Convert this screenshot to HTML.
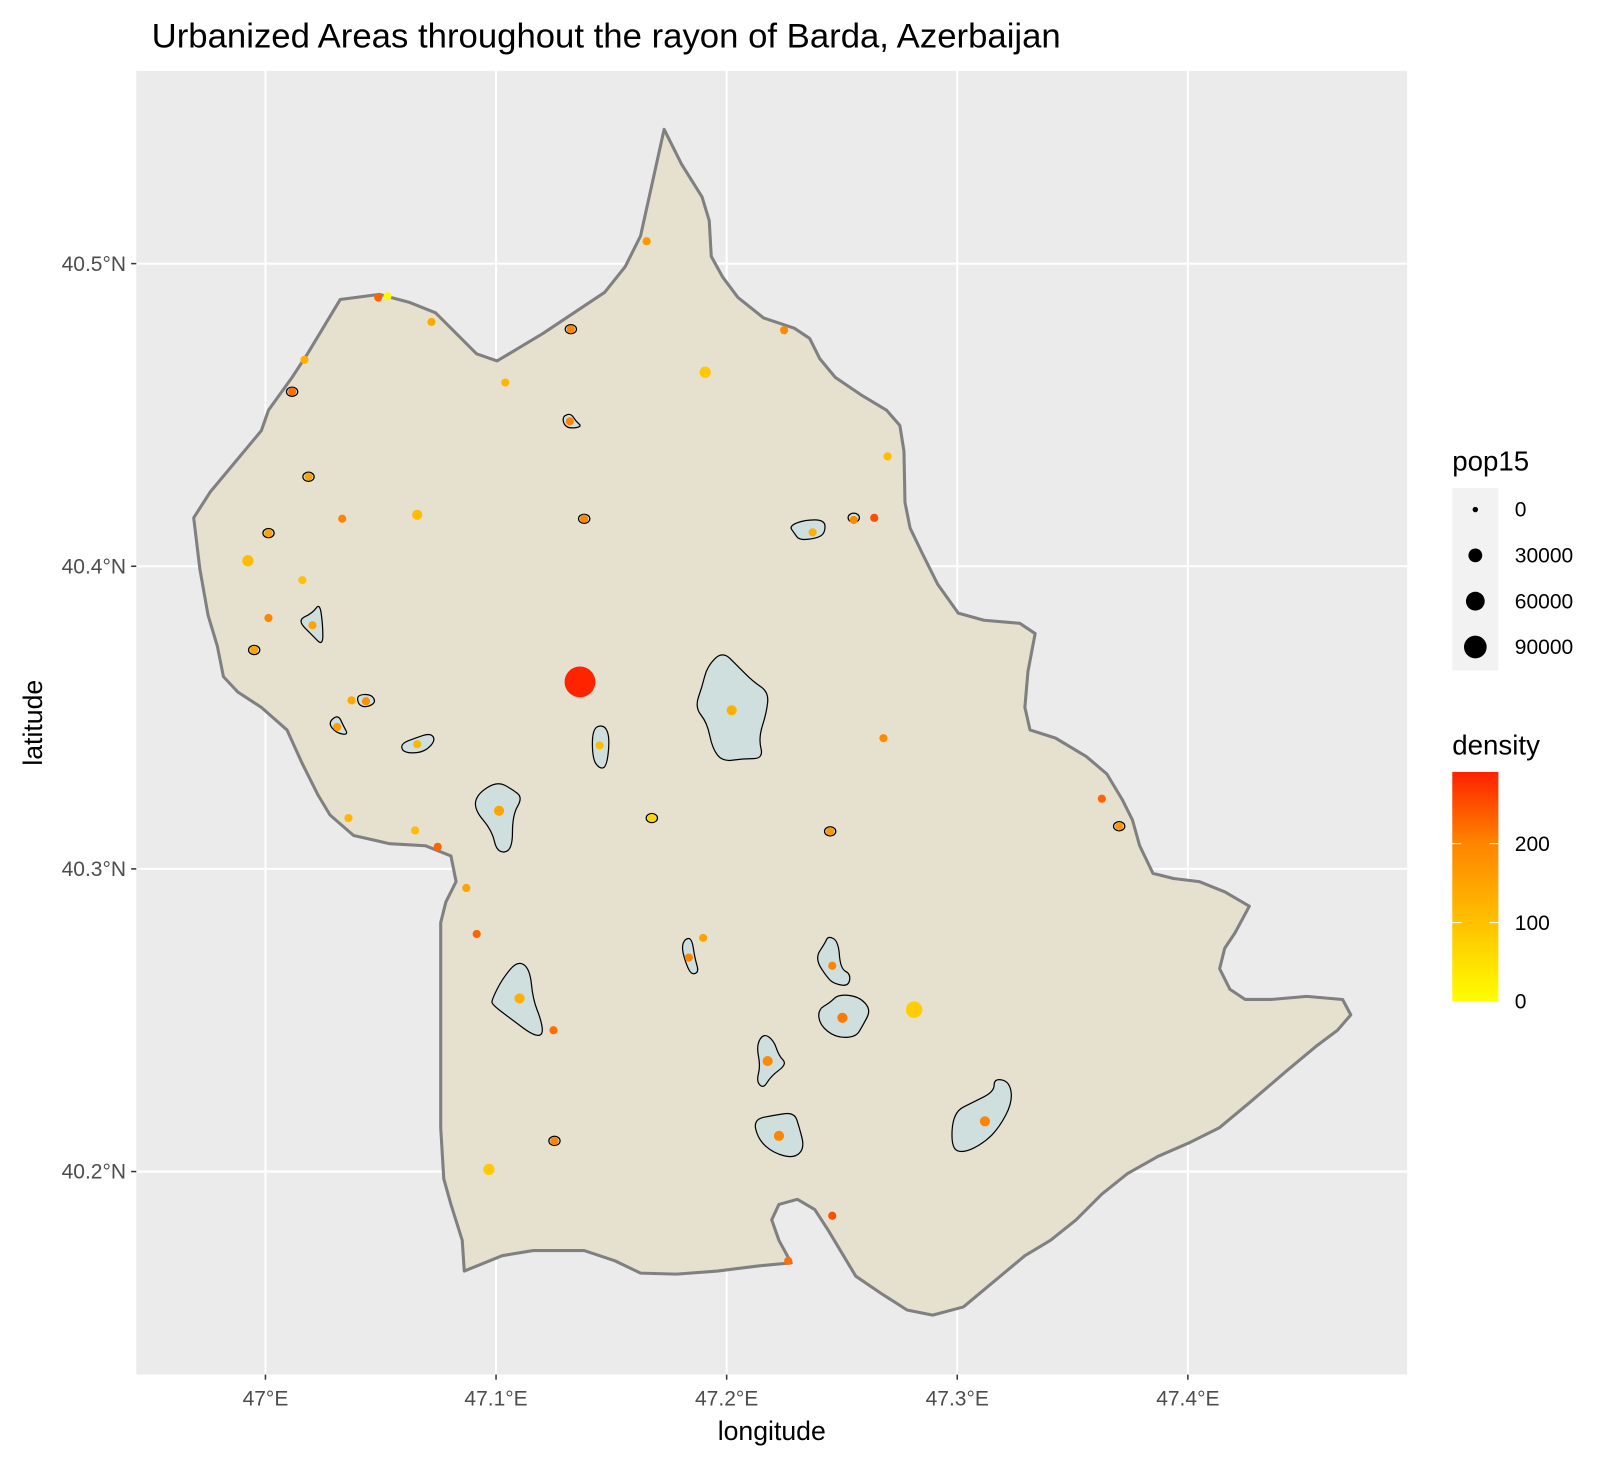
<!DOCTYPE html>
<html><head><meta charset="utf-8">
<style>
html,body{margin:0;padding:0;background:#fff;}
svg{display:block;font-family:"Liberation Sans",Arial,sans-serif;}
</style></head>
<body>
<svg id="chart" width="1606" height="1466" viewBox="0 0 1567 1430" xmlns="http://www.w3.org/2000/svg">
<rect x="0" y="0" width="1567" height="1430" fill="#fff"/>
<text x="148" y="46" font-size="33.5" fill="#000" textLength="887" lengthAdjust="spacingAndGlyphs">Urbanized Areas throughout the rayon of Barda, Azerbaijan</text>
<rect x="133" y="69" width="1240" height="1272" fill="#ebebeb"/>
<g id="grid"></g>
<g id="region"></g>
<g id="urban"></g>
<g id="pts"></g>
<g id="axes"></g>
<text x="753" y="1405" font-size="26" text-anchor="middle" fill="#000">longitude</text>
<text x="0" y="0" font-size="26" text-anchor="middle" fill="#000" transform="translate(41,705) rotate(-90)">latitude</text>
<g id="legend-size">
<text x="1417" y="459" font-size="27" fill="#000">pop15</text>
<rect x="1417" y="476" width="45" height="178" fill="#f2f2f2"/>
</g>
<g id="legend-color">
<defs><linearGradient id="dg" x1="0" y1="1" x2="0" y2="0">
<stop offset="0" stop-color="#ffff00"/><stop offset="0.34" stop-color="#ffc200"/><stop offset="0.69" stop-color="#ff8400"/><stop offset="1" stop-color="#ff2200"/></linearGradient></defs>
<text x="1417" y="736" font-size="27" fill="#000">density</text>
<rect x="1417" y="753" width="45" height="224" fill="url(#dg)"/>
</g>
</svg>
<script>
const NS="http://www.w3.org/2000/svg";
const lonTicks=[47.0,47.1,47.2,47.3,47.4];
const lonLabels=["47°E","47.1°E","47.2°E","47.3°E","47.4°E"];
const latTicks=[40.5,40.4,40.3,40.2];
const latLabels=["40.5°N","40.4°N","40.3°N","40.2°N"];
const ptLon=[47.0489,47.0529,47.0720,47.1653,47.1324,47.0169,47.0116,47.1040,47.1907,47.2249,47.1320,47.2698,47.0187,47.0333,47.0658,47.1382,47.0013,47.2373,47.2551,47.2640,46.9924,47.0160,47.0013,47.0204,46.9951,47.0373,47.0436,47.0311,47.2022,47.0658,47.1449,47.2680,47.1013,47.0360,47.0649,47.0747,47.1676,47.2449,47.3627,47.3702,47.0871,47.0916,47.1898,47.1836,47.2458,47.1102,47.2813,47.2502,47.1249,47.2178,47.3120,47.2227,47.1253,47.0969,47.2458,47.2267,47.1364];
const ptLat=[40.4888,40.4892,40.4807,40.5074,40.4783,40.4682,40.4577,40.4607,40.4641,40.4780,40.4479,40.4363,40.4296,40.4157,40.4170,40.4157,40.4109,40.4112,40.4153,40.4160,40.4018,40.3954,40.3829,40.3805,40.3724,40.3557,40.3554,40.3469,40.3524,40.3412,40.3408,40.3432,40.3192,40.3168,40.3127,40.3073,40.3168,40.3124,40.3232,40.3141,40.2937,40.2785,40.2772,40.2707,40.2680,40.2572,40.2535,40.2508,40.2467,40.2365,40.2166,40.2118,40.2101,40.2007,40.1854,40.1705,40.3618];
const ptPop=[9000,9000,9000,9000,9000,9000,9000,9000,22000,9000,9000,9000,9000,9000,17000,9000,9000,9000,9000,9000,22000,9000,9000,9000,9000,9000,9000,9000,17000,9000,9000,9000,17000,9000,9000,9000,9000,9000,9000,9000,9000,9000,9000,9000,9000,17000,53000,17000,9000,17000,17000,17000,9000,22000,9000,9000,200000];
const ptDensity=[230,10,140,170,200,130,220,120,90,190,200,110,150,200,110,200,150,130,190,250,110,100,200,150,150,140,180,160,130,120,110,190,150,120,110,230,70,170,230,170,150,230,150,200,200,130,80,210,220,190,200,200,200,90,250,220,290];
const sizeBreaks=[0,30000,60000,90000];
const densityBreaks=[0,100,200];

function X(lon){return 259+(lon-47)*2250;}
function Y(lat){return 257+(40.5-lat)*2953;}
function R(p){return Math.sqrt(6+p*0.0011);}
const cs=[[0,[255,255,0]],[100,[255,194,0]],[200,[255,132,0]],[291,[255,34,0]]];
function C(d){for(let i=0;i<cs.length-1;i++){const a=cs[i],b=cs[i+1];if(d<=b[0]||i==cs.length-2){let t=Math.max(0,Math.min(1,(d-a[0])/(b[0]-a[0])));const c=a[1].map((v,k)=>Math.round(v+(b[1][k]-v)*t));return `rgb(${c})`;}}}
function mk(tag,attrs,parent){const e=document.createElementNS(NS,tag);for(const k in attrs)e.setAttribute(k,attrs[k]);parent.appendChild(e);return e;}
function smooth(pts){let d=`M${(pts[0][0]+pts[1][0])/2},${(pts[0][1]+pts[1][1])/2}`;const n=pts.length;for(let i=1;i<=n;i++){const p=pts[i%n],q=pts[(i+1)%n];d+=` Q${p[0]},${p[1]} ${(p[0]+q[0])/2},${(p[1]+q[1])/2}`;}return d+'Z';}

const grid=document.getElementById('grid');
lonTicks.forEach(v=>{const l=mk('line',{x1:X(v),x2:X(v),y1:69,y2:1341,stroke:'#fff','stroke-width':2},grid);

});
latTicks.forEach(v=>{const l=mk('line',{x1:133,x2:1373,y1:Y(v),y2:Y(v),stroke:'#fff','stroke-width':2},grid);

});

const bnd=[[189,505],[205,480],[230,450],[255,420],[262,400],[285,368],[300,345],[332,292],[370,287],[400,295],[425,305],[445,325],[465,345],[485,352],[505,340],[530,325],[560,305],[590,285],[610,260],[625,230],[648,126],[665,160],[685,192],[692,215],[694,250],[705,270],[720,290],[745,310],[775,320],[790,330],[800,350],[815,368],[840,385],[865,400],[878,415],[882,440],[883,490],[888,515],[900,540],[915,570],[935,598],[960,605],[995,608],[1010,618],[1003,655],[1000,690],[1005,712],[1030,720],[1060,738],[1080,755],[1095,780],[1105,800],[1112,825],[1125,852],[1145,857],[1170,860],[1195,870],[1219,884],[1205,910],[1195,925],[1190,945],[1200,965],[1215,975],[1240,975],[1275,972],[1310,975],[1318,990],[1305,1005],[1285,1020],[1255,1045],[1220,1075],[1190,1100],[1160,1115],[1130,1128],[1100,1145],[1075,1165],[1050,1190],[1025,1210],[1000,1225],[970,1250],[940,1275],[910,1283],[885,1278],[860,1262],[835,1245],[820,1220],[808,1200],[795,1180],[778,1170],[760,1175],[753,1190],[760,1210],[772,1232],[740,1235],[700,1240],[660,1243],[625,1242],[600,1230],[570,1220],[520,1220],[490,1225],[453,1240],[451,1210],[440,1175],[433,1150],[430,1100],[430,1000],[430,900],[435,880],[445,860],[440,835],[415,825],[380,823],[345,815],[322,795],[310,775],[295,745],[280,712],[255,690],[232,675],[218,660],[212,630],[203,600],[195,555]];
const reg=mk('polygon',{points:bnd.map(p=>p.join(',')).join(' '),fill:'#e6e0cf',stroke:'#808080','stroke-width':3,'stroke-linejoin':'round'},document.getElementById('region'));



const urbanPolys=[
[[690,650],[705,635],[720,650],[735,665],[750,675],[748,695],[740,720],[745,740],[725,740],[705,743],[695,730],[690,705],[678,690],[685,670]],
[[465,775],[485,762],[500,770],[510,778],[500,795],[500,830],[485,832],[480,810],[463,790]],
[[480,975],[490,955],[505,937],[517,945],[520,975],[528,995],[530,1010],[520,1010],[500,995],[480,980]],
[[930,1085],[950,1075],[970,1065],[970,1052],[985,1055],[988,1075],[975,1100],[960,1115],[940,1125],[928,1120]],
[[735,1092],[755,1088],[775,1085],[780,1100],[785,1120],[775,1130],[755,1125],[740,1112]],
[[798,985],[810,978],[818,970],[838,972],[850,985],[842,1000],[835,1012],[815,1012],[800,1000]],
[[738,1020],[745,1008],[755,1015],[760,1030],[768,1038],[752,1050],[745,1062],[738,1055],[742,1040]],
[[795,935],[805,920],[808,913],[818,918],[820,945],[830,950],[828,962],[815,960],[808,955]],
[[578,710],[590,707],[595,720],[592,748],[585,750],[578,740]],
[[665,925],[668,916],[675,915],[678,935],[682,948],[675,951],[670,942]],
[[290,605],[305,598],[312,588],[315,610],[315,630],[305,620]],
[[392,725],[405,720],[420,715],[425,722],[415,733],[400,735],[392,732]],
[[320,705],[330,697],[335,708],[340,717],[328,715]],
[[348,678],[362,677],[367,685],[358,690],[350,688]],
[[770,513],[785,507],[805,507],[805,520],[797,525],[780,527],[775,520]],
[[549,406],[557,403],[562,411],[568,416],[556,418],[550,414]]
];
const urbanG=document.getElementById('urban');
urbanPolys.forEach(p=>{const e=mk('path',{d:smooth(p),fill:'#cfdfdd',stroke:'#000','stroke-width':1.2,'stroke-linejoin':'round'},urbanG);

});
const smallUrban=[[285,382],[301,465],[262,520],[248,634],[557,321],[833,505],[810,811],[1092,806],[541,1113],[636,798],[570,506]];
smallUrban.forEach(p=>{const e=mk('ellipse',{cx:p[0],cy:p[1],rx:5.5,ry:4.5,fill:'#cfdfdd',stroke:'#000','stroke-width':1.2},urbanG);

});

const ptsG=document.getElementById('pts');
ptLon.forEach((lon,i)=>{const c=mk('circle',{cx:X(lon),cy:Y(ptLat[i]),r:R(ptPop[i]),fill:C(ptDensity[i])},ptsG);

});

const axes=document.getElementById('axes');
lonTicks.forEach((v,i)=>{const t=mk('line',{x1:X(v),x2:X(v),y1:1341,y2:1346,stroke:'#333','stroke-width':1.5},axes);


const l=mk('text',{x:X(v),y:1371,'font-size':20.5,'text-anchor':'middle',fill:'#4d4d4d'},axes);l.textContent=lonLabels[i];

});
latTicks.forEach((v,i)=>{const t=mk('line',{x1:128,x2:133,y1:Y(v),y2:Y(v),stroke:'#333','stroke-width':1.5},axes);


const l=mk('text',{x:123,y:Y(v)+7,'font-size':20.5,'text-anchor':'end',fill:'#4d4d4d'},axes);l.textContent=latLabels[i];

});

const ls=document.getElementById('legend-size');
sizeBreaks.forEach((b,i)=>{const y=497+i*44.7;
const c=mk('circle',{cx:1439.5,cy:y,r:R(b)*1.08,fill:'#000'},ls);


const t=mk('text',{x:1478,y:y+7,'font-size':20.5,fill:'#000'},ls);t.textContent=String(b);

});
const lc=document.getElementById('legend-color');
densityBreaks.forEach(b=>{const y=977-b*0.77;
const t1=mk('line',{x1:1417,x2:1426,y1:y,y2:y,stroke:'#fff','stroke-width':1},lc);


const t2=mk('line',{x1:1453,x2:1462,y1:y,y2:y,stroke:'#fff','stroke-width':1},lc);


const t=mk('text',{x:1478,y:y+7,'font-size':20.5,fill:'#000'},lc);t.textContent=String(b);

});
</script>
</body></html>
